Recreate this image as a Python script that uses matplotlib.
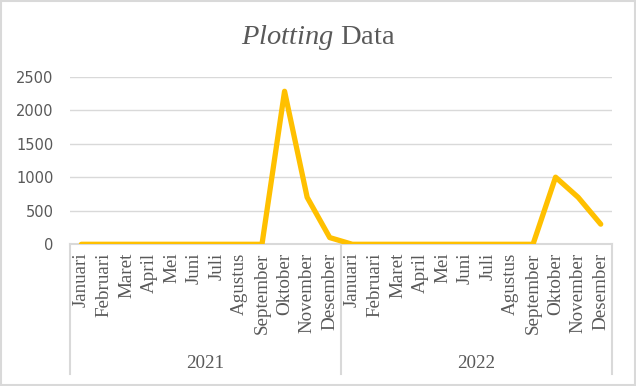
import matplotlib.pyplot as plt
from matplotlib.lines import Line2D
from matplotlib.patches import Rectangle
import matplotlib.transforms as mtransforms

# data
bulan = ['Januari', 'Februari', 'Maret', 'April', 'Mei', 'Juni', 'Juli',
         'Agustus', 'September', 'Oktober', 'November', 'Desember']
tahun = ['2021', '2022']
nilai_2021 = [0, 0, 0, 0, 0, 0, 0, 0, 0, 2280, 700, 100]
nilai_2022 = [0, 0, 0, 0, 0, 0, 0, 0, 0, 1000, 700, 300]
y_ticks = [0, 500, 1000, 1500, 2000, 2500]

nilai = nilai_2021 + nilai_2022
label_x = bulan * len(tahun)
x = list(range(len(nilai)))

abu = '#595959'
garis = '#d9d9d9'

plt.rcParams['mathtext.fontset'] = 'custom'
plt.rcParams['mathtext.rm'] = 'Liberation Serif'
plt.rcParams['mathtext.it'] = 'Liberation Serif:italic'

fig = plt.figure(figsize=(6.36, 3.86), dpi=100)
fig.patches.append(Rectangle((0.002, 0.003), 0.996, 0.994, transform=fig.transFigure,
                             fill=False, edgecolor=garis, linewidth=1.5))
ax = fig.add_axes([0.1101, 0.3671, 0.8522, 0.4347])

ax.plot(x, nilai, color='#FFC000', linewidth=3.8, solid_capstyle='round',
        solid_joinstyle='round', zorder=3)

ax.set_xlim(-0.5, len(nilai) - 0.5)
ax.set_ylim(0, 2500)
ax.set_yticks(y_ticks)
ax.set_yticklabels([str(v) for v in y_ticks], fontsize=10.5, color=abu, family='DejaVu Sans')
ax.tick_params(axis='y', length=0, pad=12)
ax.grid(axis='y', color=garis, linewidth=1)
ax.set_axisbelow(True)
for s in ['top', 'right', 'left']:
    ax.spines[s].set_visible(False)
ax.spines['bottom'].set_color(garis)
ax.spines['bottom'].set_linewidth(1.5)
ax.set_xticks([])

# label bulan
trans = mtransforms.blended_transform_factory(ax.transData, ax.transAxes)
for i, lab in enumerate(label_x):
    ax.text(i, -0.05, lab, transform=trans, rotation=90, ha='center', va='top',
            fontsize=13.7, color=abu, family='Liberation Serif')

# pemisah tahun dan label tahun
n = len(bulan)
for k in range(len(tahun) + 1):
    ax.add_line(Line2D([k * n - 0.5, k * n - 0.5], [0, -0.77], transform=trans,
                       color=garis, linewidth=1.5, clip_on=False))
for k, th in enumerate(tahun):
    ax.text(k * n + (n - 1) / 2, -0.71, th, transform=trans, ha='center', va='center',
            fontsize=13.7, color=abu, family='Liberation Serif')

fig.text(0.5, 0.902, r'$\mathit{Plotting}$ Data', ha='center', va='center',
         fontsize=20.5, color=abu, family='Liberation Serif')

fig.savefig('out.png', dpi=100)
